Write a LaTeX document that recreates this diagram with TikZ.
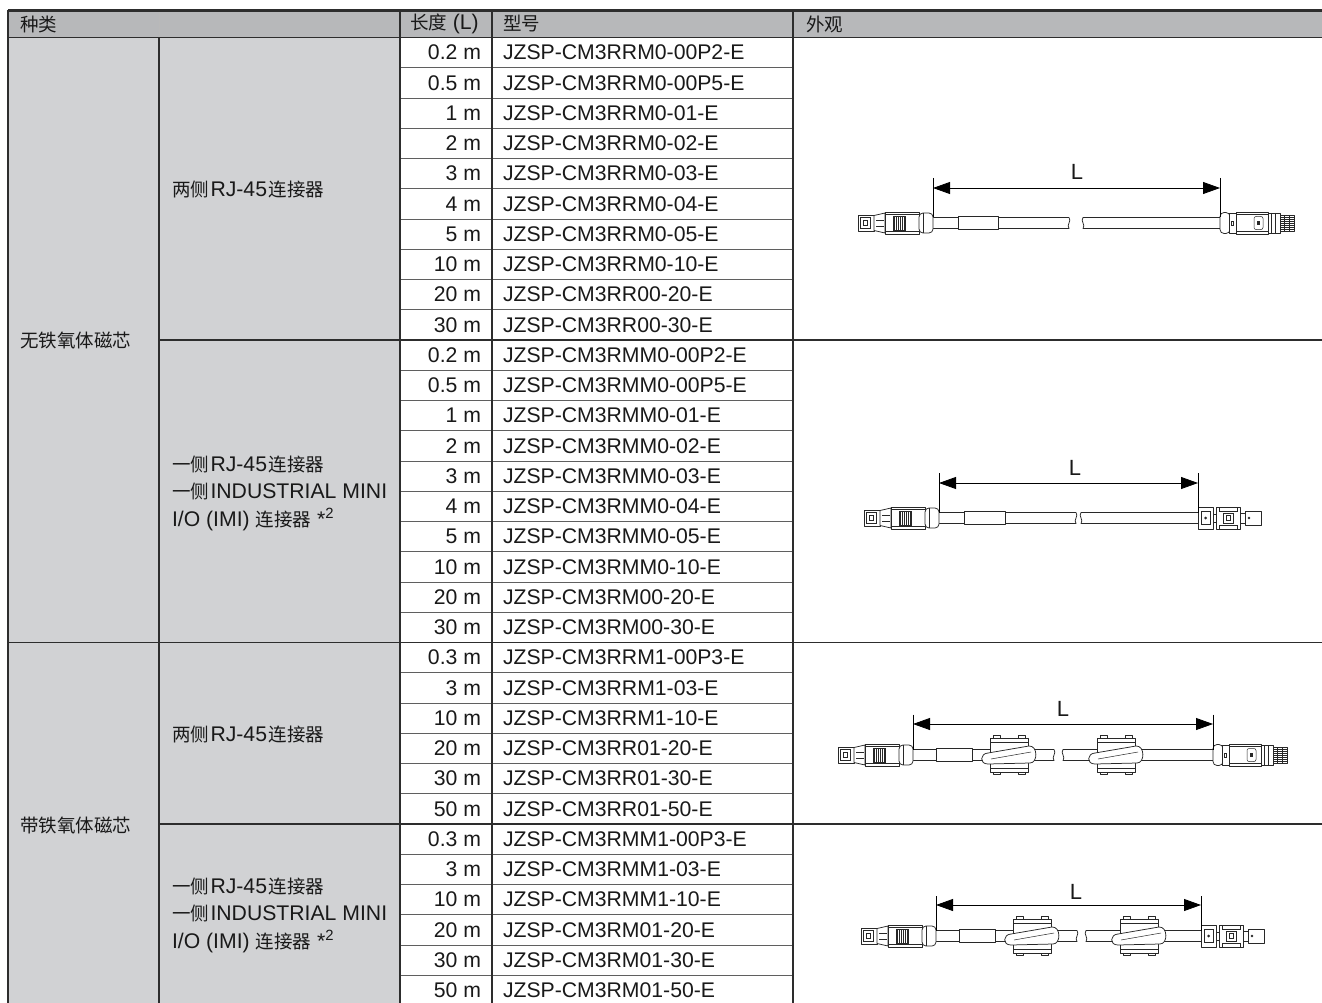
\documentclass[tikz,border=0pt]{standalone}
\usepackage{fontspec}
\setmainfont{Liberation Sans}
\newfontfamily\cjkf{Noto Sans CJK SC}
\usetikzlibrary{arrows.meta}
\newcommand{\zh}[1]{{\fontsize{18.5pt}{22pt}\cjkf #1}}
\newcommand{\gp}{\hspace{1.5pt}}
\definecolor{hdrgray}{RGB}{183,184,186}
\definecolor{catgray}{RGB}{209,210,212}
\definecolor{gridc}{RGB}{45,45,45}
\definecolor{rowc}{RGB}{95,95,95}
\definecolor{inkc}{RGB}{40,40,40}

\newcommand{\RJLeft}[2]{%
\begin{scope}[shift={(#1,#2)}]
 \draw[cabpart] (-75,-8) rectangle (-59,8);
 \draw[cabthin] (-73,-5.5) rectangle (-63,5.5);
 \draw[cabthin] (-70,-2.5) rectangle (-66,2.5);
 \draw[cabpart] (-59,-7.5) -- (-48,-10) -- (-48,10) -- (-59,7.5) -- cycle;
 \draw[cabthin] (-57,-3) -- (-49,-3) (-57,3) -- (-49,3);
 \draw[cabpart] (-48,-11) rectangle (-14,11);
 \draw[cabthin] (-48,-8.5) -- (-14,-8.5) (-48,8.5) -- (-14,8.5);
 \draw[cabthin] (-40,-7) rectangle (-28,7);
 \foreach \k in {-39,-37,...,-29} \draw[cabthin] (\k,-7) -- (\k,7);
 \draw[cabpart, rounded corners=4pt] (-14,-10) rectangle (0,10);
 \draw[cabthin] (-10,-10) -- (-10,10);
\end{scope}}

\newcommand{\RJRight}[2]{%
\begin{scope}[shift={(#1,#2)}]
 \draw[cabpart, rounded corners=4pt] (0,-10.5) rectangle (10,10.5);
 \draw[cabpart] (9,-10) rectangle (16,10);
 \draw[cabthin] (11.5,-2) rectangle (13.5,2);
 \draw[cabpart] (16,-11) rectangle (48,11);
 \draw[cabthin] (16,-8.5) -- (48,-8.5) (16,8.5) -- (48,8.5);
 \draw[cabthin, rounded corners=2pt] (34,-6.5) rectangle (43,6.5);
 \fill[inkc] (37,-2) rectangle (40,2);
 \draw[cabpart] (48,-10) rectangle (60,10);
 \draw[cabthin] (51,-10) -- (51,10) (55,-10) -- (55,10);
 \draw[cabpart] (60,-8) rectangle (74,8);
 \foreach \k in {-6,-4,...,6} \draw[cabthin] (60,\k) -- (74,\k);
 \draw[cabthin] (64,-8) -- (64,8) (69,-8) -- (69,8);
\end{scope}}

\newcommand{\IMIRight}[2]{%
\begin{scope}[shift={(#1,#2)}]
 \draw[cabpart] (0,-11) rectangle (15,11);
 \draw[cabthin] (3,-6.5) rectangle (12,6.5);
 \fill[inkc] (7.5,0) circle (1.5);
 \draw[cabpart] (15,-4) rectangle (18,4);
 \draw[cabpart] (18,-11) rectangle (42,11);
 \draw[cabthin] (21,-11) -- (21,-7) -- (39,-7) -- (39,-11);
 \draw[cabthin] (21,11) -- (21,7) -- (39,7) -- (39,11);
 \draw[cabthin] (25,-5) rectangle (35,5);
 \draw[cabthin] (28,-2.5) rectangle (32,2.5);
 \draw[cabpart] (42,-5) rectangle (47,5);
 \draw[cabpart] (47,-7) rectangle (63,7);
 \fill[inkc] (51,0) circle (1.3);
\end{scope}}

\newcommand{\Cable}[5]{%
 \draw[cabpart] (#1,#5-5.5) -- (#2,#5-5.5) .. controls (#2+3,#5-2) and (#2-3,#5+2) .. (#2,#5+5.5) -- (#1,#5+5.5);
 \draw[cabpart] (#4,#5-5.5) -- (#3,#5-5.5) .. controls (#3-3,#5-2) and (#3+3,#5+2) .. (#3,#5+5.5) -- (#4,#5+5.5);
}

\newcommand{\Ferrite}[2]{%
\begin{scope}[shift={(#1,#2)}]
 \draw[cabpart] (-16,-19.5) rectangle (-9,-16) (9,-19.5) rectangle (16,-16);
 \draw[cabpart] (-16,16) rectangle (-9,19.5) (9,16) rectangle (16,19.5);
 \draw[cabpart] (-19,-17) rectangle (19,17);
 \draw[cabthin] (-19,-13) -- (19,-13) (-19,13) -- (19,13);
 \draw[cabpart] (-21,9) .. controls (-30,9) and (-29,-1.5) .. (-21,-2) -- (20,-9) .. controls (29,-9.5) and (29,8) .. (21,8) -- cycle;
 \draw[cabthin] (-18,4) -- (22,-3);
\end{scope}}

\begin{document}
\begin{tikzpicture}[x=1pt,y=-1pt,
  every node/.style={inner sep=0pt, outer sep=0pt},
  txt/.style={font=\fontsize{21.2pt}{27.5pt}\selectfont, text=black!90},
  lentxt/.style={txt, anchor=east},
  mdltxt/.style={txt, anchor=west},
  cattxt/.style={txt, anchor=west, align=left},
  frame/.style={draw=gridc, line width=1.3pt},
  rowline/.style={draw=rowc, line width=0.9pt},
  cabpart/.style={draw=inkc, line width=0.75pt, fill=white, line join=round},
  cabthin/.style={draw=inkc, line width=0.5pt},
  dimline/.style={draw=black, line width=0.8pt, arrows={Triangle[length=17pt,width=12pt]-Triangle[length=17pt,width=12pt]}},
  extline/.style={draw=black, line width=0.7pt},
  dimlab/.style={font=\fontsize{22pt}{24pt}\selectfont, text=black!90}
]
\useasboundingbox (0,0) rectangle (1322,1003);
\fill[white] (0,0) rectangle (1322,1003);
% fills
\fill[hdrgray] (8,10) rectangle (1322,37.5);
\fill[catgray] (8,37.5) rectangle (400,1003);
% row lines
\foreach \i in {1,2,3,4,5,6,7,8,9,11,12,13,14,15,16,17,18,19,21,22,23,24,25,27,28,29,30,31}
  \draw[rowline] (400,37.5+\i*30.25) -- (793,37.5+\i*30.25);
% group lines
\draw[frame] (159,340) -- (1322,340);
\draw[frame] (8,642.5) -- (1322,642.5);
\draw[frame] (159,824) -- (1322,824);
% verticals
\draw[draw=gray!55, line width=0.6pt] (159,10) -- (159,37.5);
\draw[frame] (8,10) -- (8,1003);
\draw[frame] (159,37.5) -- (159,1003);
\draw[frame] (400,10) -- (400,1003);
\draw[frame] (492,10) -- (492,1003);
\draw[frame] (793,10) -- (793,1003);
% header lines
\draw[frame] (8,37.5) -- (1322,37.5);
\draw[draw=gridc, line width=2.2pt] (8,10.5) -- (1322,10.5);
% header text
\node[txt, anchor=west] (h1) at (20,24) {\zh{种类}};
\node[txt, anchor=west] (h2) at (410,24) {\zh{长度} (L)};
\node[txt, anchor=west] (h3) at (503,24) {\zh{型号}};
\node[txt, anchor=west] (h4) at (806,24) {\zh{外观}};
% category text
\node[cattxt] (cat1) at (20,340) {\zh{无铁氧体磁芯}};
\node[cattxt] (cat2) at (20,825) {\zh{带铁氧体磁芯}};
\node[cattxt] (sub1) at (172,189) {\zh{两侧}\gp RJ-45\gp\zh{连接器}};
\node[cattxt] (sub2) at (172,493) {\zh{一侧}\gp RJ-45\gp\zh{连接器}\\\zh{一侧}\gp INDUSTRIAL MINI\\I/O (IMI) \zh{连接器} *\textsuperscript{2}};
\node[cattxt] (sub3) at (172,734) {\zh{两侧}\gp RJ-45\gp\zh{连接器}};
\node[cattxt] (sub4) at (172,915) {\zh{一侧}\gp RJ-45\gp\zh{连接器}\\\zh{一侧}\gp INDUSTRIAL MINI\\I/O (IMI) \zh{连接器} *\textsuperscript{2}};
% rows
\foreach \len/\mdl [count=\i from 0] in {%
0.2 m/JZSP-CM3RRM0-00P2-E,0.5 m/JZSP-CM3RRM0-00P5-E,1 m/JZSP-CM3RRM0-01-E,2 m/JZSP-CM3RRM0-02-E,3 m/JZSP-CM3RRM0-03-E,4 m/JZSP-CM3RRM0-04-E,5 m/JZSP-CM3RRM0-05-E,10 m/JZSP-CM3RRM0-10-E,20 m/JZSP-CM3RR00-20-E,30 m/JZSP-CM3RR00-30-E,%
0.2 m/JZSP-CM3RMM0-00P2-E,0.5 m/JZSP-CM3RMM0-00P5-E,1 m/JZSP-CM3RMM0-01-E,2 m/JZSP-CM3RMM0-02-E,3 m/JZSP-CM3RMM0-03-E,4 m/JZSP-CM3RMM0-04-E,5 m/JZSP-CM3RMM0-05-E,10 m/JZSP-CM3RMM0-10-E,20 m/JZSP-CM3RM00-20-E,30 m/JZSP-CM3RM00-30-E,%
0.3 m/JZSP-CM3RRM1-00P3-E,3 m/JZSP-CM3RRM1-03-E,10 m/JZSP-CM3RRM1-10-E,20 m/JZSP-CM3RR01-20-E,30 m/JZSP-CM3RR01-30-E,50 m/JZSP-CM3RR01-50-E,%
0.3 m/JZSP-CM3RMM1-00P3-E,3 m/JZSP-CM3RMM1-03-E,10 m/JZSP-CM3RMM1-10-E,20 m/JZSP-CM3RM01-20-E,30 m/JZSP-CM3RM01-30-E,50 m/JZSP-CM3RM01-50-E}
{
  \node[lentxt] (len\i) at (481,52.625+\i*30.25) {\len};
  \node[mdltxt] (mdl\i) at (503,52.625+\i*30.25) {\mdl};
}
% ---- drawing 1
\Cable{860}{1069}{1083}{1222}{223}
\draw[cabpart] (958,216.5) rectangle (998,229.5);
\RJLeft{933}{223}
\RJRight{1220}{223}
\coordinate (a1) at (933,178); \coordinate (a1b) at (933,217.5);
\coordinate (b1) at (1220,178); \coordinate (b1b) at (1220,217.5);
\draw[extline] (a1) -- (a1b); \draw[extline] (b1) -- (b1b);
\coordinate (p1) at (933,188); \coordinate (q1) at (1220,188);
\draw[dimline] (p1) -- (q1);
\node[dimlab] (L1) at (1077,172) {L};
% ---- drawing 2
\Cable{866}{1076}{1081}{1200}{518}
\draw[cabpart] (964.5,511.5) rectangle (1005,524.5);
\RJLeft{939}{518}
\IMIRight{1198}{518}
\coordinate (a2) at (939,473); \coordinate (a2b) at (939,512.5);
\coordinate (b2) at (1198,473); \coordinate (b2b) at (1198,512.5);
\draw[extline] (a2) -- (a2b); \draw[extline] (b2) -- (b2b);
\coordinate (p2) at (939,483); \coordinate (q2) at (1198,483);
\draw[dimline] (p2) -- (q2);
\node[dimlab] (L2) at (1075,468) {L};
% ---- drawing 3
\Cable{840}{1054}{1063}{1215}{755}
\draw[cabpart] (936,748.5) rectangle (972,761.5);
\Ferrite{1009}{755}
\Ferrite{1116}{755}
\RJLeft{913}{755}
\RJRight{1213}{755}
\coordinate (a3) at (913,714.5); \coordinate (a3b) at (913,749.5);
\coordinate (b3) at (1213,714.5); \coordinate (b3b) at (1213,749.5);
\draw[extline] (a3) -- (a3b); \draw[extline] (b3) -- (b3b);
\coordinate (p3) at (913,724); \coordinate (q3) at (1213,724);
\draw[dimline] (p3) -- (q3);
\node[dimlab] (L3) at (1063,709) {L};
% ---- drawing 4
\Cable{862}{1077}{1086}{1203}{936}
\draw[cabpart] (959,929.5) rectangle (995,942.5);
\Ferrite{1032}{936}
\Ferrite{1139}{936}
\RJLeft{936}{936}
\IMIRight{1201}{936}
\coordinate (a4) at (936,896); \coordinate (a4b) at (936,930.5);
\coordinate (b4) at (1201,896); \coordinate (b4b) at (1201,930.5);
\draw[extline] (a4) -- (a4b); \draw[extline] (b4) -- (b4b);
\coordinate (p4) at (936,905); \coordinate (q4) at (1201,905);
\draw[dimline] (p4) -- (q4);
\node[dimlab] (L4) at (1076,891.5) {L};
\end{tikzpicture}
\end{document}
